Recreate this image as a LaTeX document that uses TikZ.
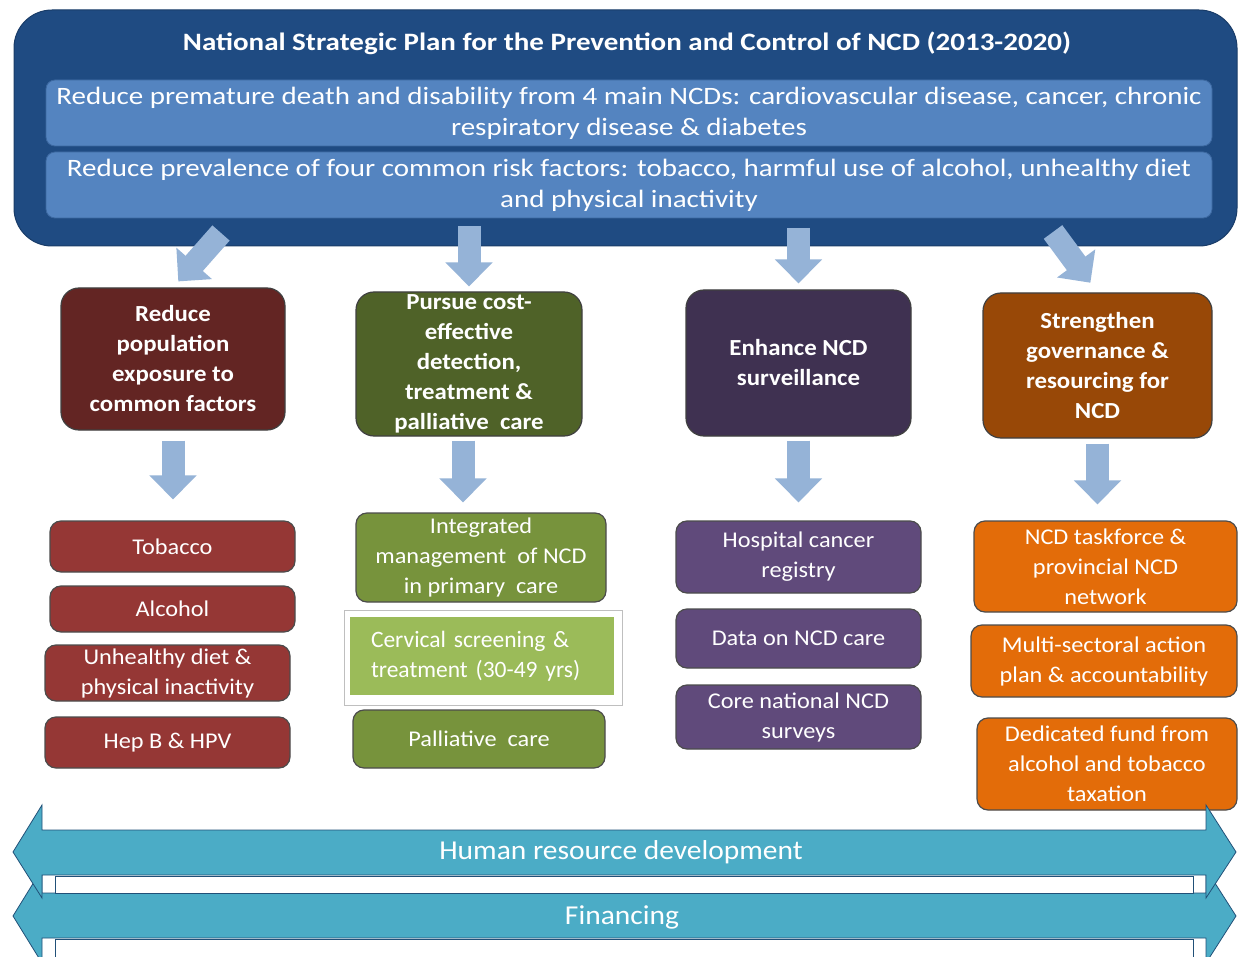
\documentclass[tikz,border=0pt]{standalone}
\usepackage{fontspec}
\setmainfont{Carlito}
\newfontfamily\bannerfont{Carlito}[FakeStretch=1.16]
\newfontfamily\boxfont{Carlito}[FakeStretch=1.08]
\usetikzlibrary{arrows.meta}

\definecolor{navy}{RGB}{31,75,130}
\definecolor{goalblue}{RGB}{84,132,192}
\definecolor{goaledge}{RGB}{60,104,160}
\definecolor{flowblue}{RGB}{149,179,215}
\definecolor{wine}{RGB}{99,37,35}
\definecolor{moss}{RGB}{79,98,40}
\definecolor{plum}{RGB}{63,49,81}
\definecolor{rust}{RGB}{152,72,7}
\definecolor{brick}{RGB}{149,55,53}
\definecolor{olive}{RGB}{119,147,60}
\definecolor{lilac}{RGB}{96,74,123}
\definecolor{tangerine}{RGB}{227,108,9}
\definecolor{leaf}{RGB}{155,187,89}
\definecolor{teal}{RGB}{75,172,198}
\definecolor{tealedge}{RGB}{33,80,120}

\tikzset{
  banner/.style={rectangle, rounded corners=38pt, fill=navy, draw=navy!80!black, line width=1pt},
  goal/.style={rectangle, rounded corners=9pt, fill=goalblue, draw=goaledge, line width=0.8pt,
    text=white, align=center, inner sep=0pt, font=\bannerfont\fontsize{25}{31}\selectfont},
  pillar/.style={rectangle, rounded corners=18pt, draw=black!75, line width=1.2pt,
    text=white, align=center, inner sep=0pt, font=\boxfont\fontsize{23}{30}\selectfont\bfseries},
  item/.style={rectangle, rounded corners=11pt, draw=black!70, line width=1.2pt,
    text=white, align=center, inner sep=0pt, font=\boxfont\fontsize{22.5}{30}\selectfont},
  flow/.style={draw=flowblue, line width=23pt, -{Triangle[width=46pt,length=24pt]}},
  band/.style={fill=teal, draw=tealedge, line width=0.8pt},
  bandside/.style={fill=white, draw=tealedge, line width=0.8pt},
  bandtext/.style={text=white, font=\boxfont\fontsize{27.3}{32}\selectfont, inner sep=0pt}
}

\begin{document}
\begin{tikzpicture}[x=1pt, y=-1pt]
\useasboundingbox[fill=white] (0,0) rectangle (1239,957);

% ---- plan banner with its two goals
\node[banner, minimum width=1223pt, minimum height=236pt] (banner) at (625.5,128) {};
\node[text=white, font=\bannerfont\fontsize{25}{28}\selectfont\bfseries, inner sep=0pt] (title) at (627,43)
  {National Strategic Plan for the Prevention and Control of NCD (2013-2020)};
\node[goal, minimum width=1166pt, minimum height=66pt] (goalA) at (629,113)
  {Reduce premature death and disability from 4 main NCDs: cardiovascular disease, cancer, chronic\\
   respiratory disease \& diabetes};
\node[goal, minimum width=1166pt, minimum height=66pt] (goalB) at (629,185)
  {Reduce prevalence of four common risk factors: tobacco, harmful use of alcohol, unhealthy diet\\
   and physical inactivity};

% ---- strategic areas
\node[pillar, fill=wine, minimum width=224pt, minimum height=142pt] (areaA) at (173,359)
  {Reduce\\ population\\ exposure to\\ common factors};
\node[pillar, fill=moss, minimum width=226pt, minimum height=144pt] (areaB) at (469,364)
  {Pursue cost-\\ effective\\ detection,\\ treatment \&\\ palliative\ \ care};
\node[pillar, fill=plum, minimum width=225pt, minimum height=146pt] (areaC) at (798.5,363)
  {Enhance NCD\\ surveillance};
\node[pillar, fill=rust, minimum width=229pt, minimum height=145pt] (areaD) at (1097.5,365.5)
  {Strengthen\\ governance \&\\ resourcing for\\ NCD};

% ---- actions under each area
\node[item, fill=brick, minimum width=245pt, minimum height=51pt] (tob) at (172.5,546.5) {Tobacco};
\node[item, fill=brick, minimum width=245pt, minimum height=46pt] (alc) at (172.5,609) {Alcohol};
\node[item, fill=brick, minimum width=245pt, minimum height=56pt] (diet) at (167.5,673)
  {Unhealthy diet \&\\ physical inactivity};
\node[item, fill=brick, minimum width=245pt, minimum height=51pt] (hep) at (167.5,742.5) {Hep B \& HPV};

\node[item, fill=olive, minimum width=250pt, minimum height=89pt] (imc) at (481,557.5)
  {Integrated\\ management\ \ of NCD\\ in primary\ \ care};
\node[rectangle, fill=white, draw=black!25, line width=1pt, minimum width=278pt, minimum height=95pt]
  (cerframe) at (483,657.5) {};
\node[rectangle, fill=leaf, minimum width=264pt, minimum height=78pt, inner xsep=21pt, inner ysep=0pt,
  text width=222pt, align=left, text=white, font=\fontsize{23.5}{30}\selectfont] (cer) at (482,656)
  {Cervical screening \&\\ treatment (30-49 yrs)};
\node[item, fill=olive, minimum width=252pt, minimum height=58pt] (pal) at (479,739) {Palliative\ \ care};

\node[item, fill=lilac, minimum width=245pt, minimum height=72pt] (reg) at (798.5,557)
  {Hospital cancer\\ registry};
\node[item, fill=lilac, minimum width=245pt, minimum height=59pt] (data) at (798.5,638.5)
  {Data on NCD care};
\node[item, fill=lilac, minimum width=245pt, minimum height=64pt] (surv) at (798.5,717)
  {Core national NCD\\ surveys};

\node[item, fill=tangerine, minimum width=263pt, minimum height=91pt] (task) at (1105.5,566.5)
  {NCD taskforce \&\\ provincial NCD\\ network};
\node[item, fill=tangerine, minimum width=266pt, minimum height=72pt] (msap) at (1104,661)
  {Multi-sectoral action\\ plan \& accountability};
\node[item, fill=tangerine, minimum width=260pt, minimum height=92pt] (fund) at (1107,764)
  {Dedicated fund from\\ alcohol and tobacco\\ taxation};

% ---- flow arrows from the plan to the areas
\coordinate (fromA) at (221,233);
\coordinate (fromB) at (469,226);
\coordinate (fromC) at (798.5,228);
\coordinate (fromD) at (1053,232);
\draw[flow, shorten >=8pt] (fromA) -- (areaA.north);
\draw[flow, shorten >=5pt] (fromB) -- (areaB.north);
\draw[flow, shorten >=6pt] (fromC) -- (areaC.north);
\draw[flow, shorten >=12pt] (fromD) -- (areaD.north);

% ---- flow arrows from the areas to their actions
\draw[flow, shorten <=10pt, shorten >=21pt] (areaA.south) -- (areaA.south |- tob.north);
\draw[flow, shorten <=4pt, shorten >=10pt] ([xshift=-6pt]areaB.south) -- ([xshift=-6pt]areaB.south |- imc.north);
\draw[flow, shorten <=4pt, shorten >=18pt] (areaC.south) -- (areaC.south |- reg.north);
\draw[flow, shorten <=5pt, shorten >=16pt] (areaD.south) -- (areaD.south |- task.north);

% ---- cross-cutting bands
\draw[bandside] (55,939) rectangle (1193,960);
\draw[band] (13,916) -- (42,869) -- (42,893) -- (1206,893) -- (1206,869) -- (1236,916)
  -- (1206,963) -- (1206,938) -- (42,938) -- (42,963) -- cycle;
\draw[bandside] (55,876) rectangle (1193,893);
\draw[band] (13,852) -- (42,805) -- (42,830) -- (1206,830) -- (1206,805) -- (1236,852)
  -- (1206,898) -- (1206,875) -- (42,875) -- (42,898) -- cycle;
\node[bandtext] (hrd) at (621,852) {Human resource development};
\node[bandtext] (fin) at (622,917) {Financing};
\end{tikzpicture}
\end{document}
